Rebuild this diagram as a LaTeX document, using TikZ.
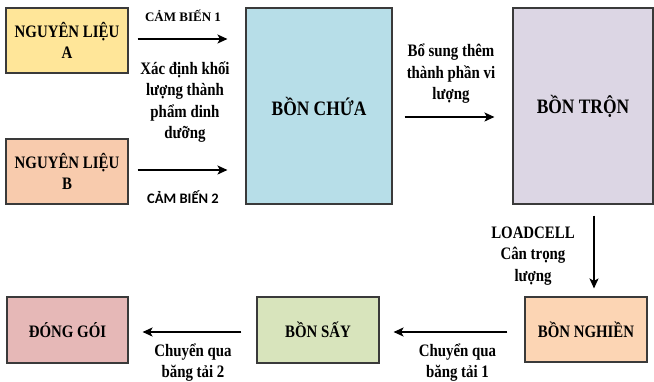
\documentclass[tikz,border=0pt]{standalone}
\usepackage{fontspec}
\setmainfont{Liberation Serif}
\newfontfamily\condserif{Liberation Serif}[FakeStretch=0.85]
\newfontfamily\sensorfont{Carlito}
\usetikzlibrary{arrows.meta}

% fills of the process boxes
\definecolor{fillA}{HTML}{FFE699}
\definecolor{fillB}{HTML}{F8CBAD}
\definecolor{fillChua}{HTML}{B7DEE8}
\definecolor{fillTron}{HTML}{DCD6E4}
\definecolor{fillDong}{HTML}{E6B8B7}
\definecolor{fillSay}{HTML}{D8E4BC}
\definecolor{fillNghien}{HTML}{FCD5B4}
\definecolor{boxline}{HTML}{3A3A3A}

\begin{document}
\begin{tikzpicture}[x=1pt,y=-1pt,
  box/.style={draw=boxline, line width=1.1pt, align=center, inner sep=0pt,
    font=\condserif\bfseries\fontsize{17.5}{21}\selectfont},
  tank/.style={box, font=\condserif\bfseries\fontsize{20.5}{24}\selectfont},
  flow/.style={line width=1.8pt, -{Stealth[length=10pt,width=9pt,inset=2.5pt]}},
  lbl/.style={align=center, inner sep=0pt,
    font=\condserif\bfseries\fontsize{17.5}{21.5}\selectfont}]
\useasboundingbox (0,0) rectangle (654,381);

% raw materials
\node[box, fill=fillA, minimum width=122pt, minimum height=65pt] (nla) at (67,40.5) {NGUYÊN LIỆU\\A};
\node[box, fill=fillB, minimum width=122pt, minimum height=65pt] (nlb) at (67,171.5) {NGUYÊN LIỆU\\B};

% tanks
\node[tank, fill=fillChua, minimum width=146pt, minimum height=196pt] (chua) at (319,106) {BỒN CHỨA};
\node[tank, fill=fillTron, minimum width=140pt, minimum height=196pt] (tron) at (583,106) {BỒN TRỘN};

% lower line
\node[box, fill=fillDong, minimum width=121pt, minimum height=66pt] (dong) at (67.5,330) {ĐÓNG GÓI};
\node[box, fill=fillSay, minimum width=122pt, minimum height=66pt] (say) at (318,330) {BỒN SẤY};
\node[box, fill=fillNghien, minimum width=122pt, minimum height=65pt] (nghien) at (586,329.5) {BỒN NGHIỀN};

% connectors
\draw[flow, shorten <=9pt, shorten >=18pt] ([yshift=1.5pt]nla.east) -- ([yshift=1.5pt]nla.east -| chua.west);
\draw[flow, shorten <=9pt, shorten >=18pt] ([yshift=1.5pt]nlb.east) -- ([yshift=1.5pt]nlb.east -| chua.west);
\draw[flow, shorten <=12pt, shorten >=18pt] ([yshift=-11pt]chua.east) -- ([yshift=-11pt]tron.west);
\draw[flow, shorten <=11pt, shorten >=8pt] ([xshift=11pt]tron.south) -- ([xshift=11pt]tron.south |- nghien.north);
\draw[flow, shorten <=17pt, shorten >=14pt] ([yshift=-2.5pt]nghien.west) -- ([yshift=-2.5pt]nghien.west -| say.east);
\draw[flow, shorten <=15pt, shorten >=14pt] ([yshift=-2pt]say.west) -- ([yshift=-2pt]say.west -| dong.east);

% connector labels
\node[lbl, font=\bfseries\fontsize{13}{15}\selectfont] (cb1) at (183,16) {CẢM BIẾN 1};
\node[lbl] (xacdinh) at (185,102) {Xác định khối\\lượng thành\\phẩm dinh\\dưỡng};
\node[lbl, font=\sensorfont\bfseries\fontsize{14.5}{17}\selectfont] (cb2) at (183,197) {CẢM BIẾN 2};
\node[lbl] (bosung) at (451,74) {Bổ sung thêm\\thành phần vi\\lượng};
\node[lbl] (loadcell) at (533,256) {LOADCELL\\Cân trọng\\lượng};
\node[lbl] (bt1) at (457.5,362.5) {Chuyển qua\\băng tải 1};
\node[lbl] (bt2) at (193,362.5) {Chuyển qua\\băng tải 2};
\end{tikzpicture}
\end{document}
